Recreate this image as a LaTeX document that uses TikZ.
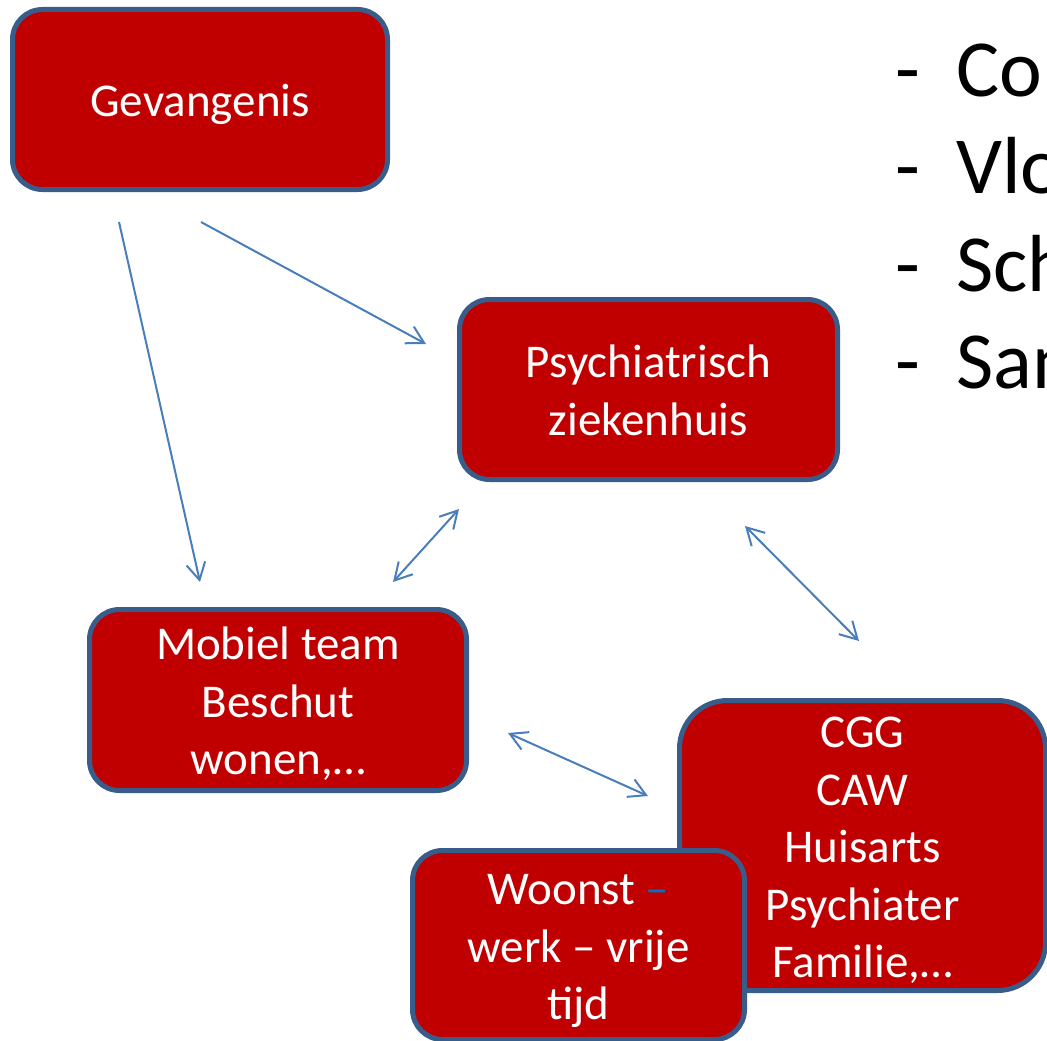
\documentclass[tikz,border=0pt]{standalone}
\usepackage{fontspec}
\setmainfont{Carlito}
\usepackage{tikz}
\usetikzlibrary{arrows.meta}
\definecolor{rood}{HTML}{C00000}
\definecolor{rand}{HTML}{385D8A}
\definecolor{lijn}{HTML}{4A7EBB}
\definecolor{streep}{HTML}{0070C0}
\newcommand{\rl}{\rule[-11.75pt]{0pt}{57.5pt}}

\begin{document}
\begin{tikzpicture}[x=1pt, y=-1pt,
        box/.style={draw=rand, line width=5pt, fill=rood, text=white, rounded corners=30pt,
            inner sep=0pt, align=center, font=\fontsize{47}{57.5}\selectfont},
        pijl/.style={draw=lijn, line width=2pt, -{Straight Barb[length=17pt,width=19pt]}},
        dpijl/.style={draw=lijn, line width=2pt, {Straight Barb[length=17pt,width=19pt]}-{Straight Barb[length=17pt,width=19pt]}},
        lijst/.style={anchor=base west, inner sep=0pt, font=\fontsize{81}{97}\selectfont}]
        \useasboundingbox (0,0) rectangle (1047,1041);
        \clip (0,0) rectangle (1047,1041);

        % Boxes
        \node[box, minimum width=375, minimum height=180] (gev) at (200,99.5) {\rl Gevangenis};
        \node[box, minimum width=378, minimum height=180] (pz) at (648.5,389.5) {\rl Psychiatrisch\\\rl ziekenhuis};
        \node[box, minimum width=377, minimum height=181] (mob) at (278,700) {\rl Mobiel team\\\rl Beschut\\\rl wonen,…};
        \node[box, rounded corners=48pt, minimum width=366, minimum height=290] (cgg) at (862.5,845.5) {\rl CGG\\\rl CAW\\\rl Huisarts\\\rl Psychiater\\\rl Familie,…};
        \node[box, minimum width=332, minimum height=189] (woon) at (578.5,945) {\rl Woonst {\color{streep}–}\\\rl werk – vrije\\\rl tijd};

        % List
        \node[lijst] (l1) at (895,96) {\makebox[61pt][l]{-}Co};
        \node[lijst] (l2) at (895,193.5) {\makebox[61pt][l]{-}Vlo};
        \node[lijst] (l3) at (895,291) {\makebox[61pt][l]{-}Sch};
        \node[lijst] (l4) at (895,388.5) {\makebox[61pt][l]{-}San};

        % Arrows
        \coordinate (a1) at (119,222);
        \coordinate (a2) at (200,582);
        \coordinate (b1) at (201,222);
        \coordinate (b2) at (426,344);
        \coordinate (c1) at (393,582);
        \coordinate (c2) at (459,509);
        \coordinate (d1) at (745,526);
        \coordinate (d2) at (859,641);
        \coordinate (e1) at (508,733);
        \coordinate (e2) at (648,796);

        \draw[pijl] (a1) -- (a2);
        \draw[pijl] (b1) -- (b2);
        \draw[dpijl] (c1) -- (c2);
        \draw[dpijl] (d1) -- (d2);
        \draw[dpijl] (e1) -- (e2);
    \end{tikzpicture}
\end{document}
